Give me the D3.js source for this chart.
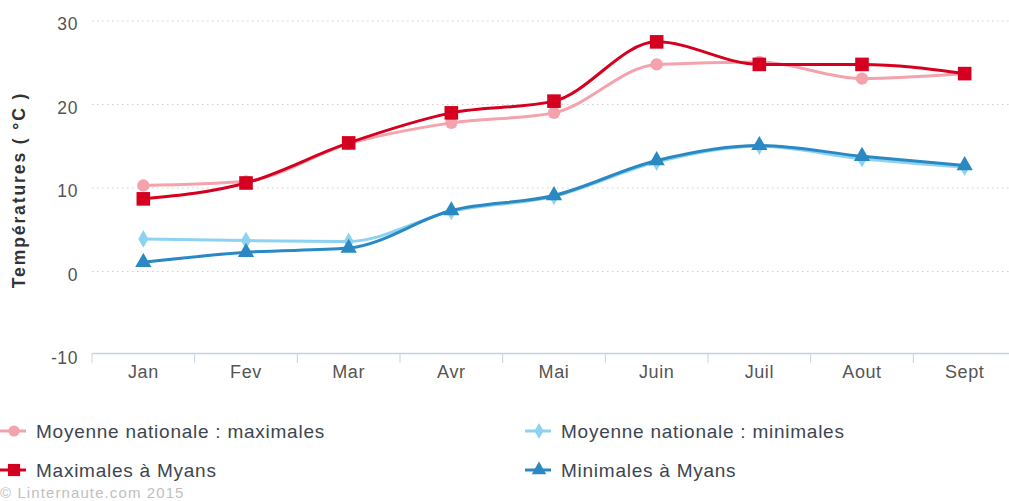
<!DOCTYPE html>
<html>
<head>
<meta charset="utf-8">
<script src="https://cdn.jsdelivr.net/npm/d3@7"></script>
<style>
  html, body { margin: 0; padding: 0; background: #fff; }
  svg { display: block; font-family: "Liberation Sans", Arial, sans-serif; }
</style>
</head>
<body>
<svg id="chart" width="1009" height="501"></svg>
<script>
// températures mensuelles, Myans vs moyenne nationale
const mois = ["Jan", "Fev", "Mar", "Avr", "Mai", "Juin", "Juil", "Aout", "Sept"];
const moyMax = [10.3, 10.8, 15.3, 17.8, 19.0, 24.8, 25.1, 23.1, 23.7];
const moyMin = [3.9, 3.7, 3.6, 7.2, 9.0, 13.1, 15.0, 13.5, 12.5];
const myansMax = [8.7, 10.6, 15.4, 19.0, 20.4, 27.5, 24.8, 24.8, 23.7];
const myansMin = [1.1, 2.3, 2.8, 7.3, 9.1, 13.3, 15.1, 13.8, 12.7];
const yTicks = [-10, 0, 10, 20, 30];

const series = [
    { nom: "Moyenne nationale : maximales", data: moyMax, couleur: "#f4a3ad", symbole: "circle" },
    { nom: "Moyenne nationale : minimales", data: moyMin, couleur: "#8dd3f1", symbole: "diamond" },
    { nom: "Maximales à Myans", data: myansMax, couleur: "#d5001f", symbole: "square" },
    { nom: "Minimales à Myans", data: myansMin, couleur: "#2a88c2", symbole: "triangle" }
];

const svg = d3.select("#chart");
const plot = { left: 92, right: 1016, top: 21, bottom: 355 };

const x = d3.scaleBand().domain(mois).range([plot.left, plot.right]);
const y = d3.scaleLinear().domain([-10, 30]).range([plot.bottom, plot.top]);

// grille pointillée
svg.append("g")
    .selectAll("line")
    .data(yTicks.filter(d => d > -10))
    .enter().append("line")
    .attr("x1", plot.left).attr("x2", 1009)
    .attr("y1", d => y(d)).attr("y2", d => y(d))
    .attr("stroke", "#cfcfcf")
    .attr("stroke-width", 1.2)
    .attr("stroke-dasharray", "1.5,3.5");

// axe Y (labels seulement)
const yAxis = svg.append("g")
    .attr("transform", `translate(${plot.left - 14},3)`)
    .call(d3.axisLeft(y).tickValues(yTicks).tickSize(0).tickPadding(0).tickFormat(d => String(d)));
yAxis.select(".domain").remove();
yAxis.selectAll("text")
    .attr("font-size", 17.5)
    .attr("letter-spacing", 0.6)
    .attr("fill", "#555")
    .attr("font-family", "Liberation Sans, Arial, sans-serif");

// axe X en bas (à -10)
const xAxis = svg.append("g")
    .attr("transform", `translate(0,${plot.bottom - 2})`)
    .call(d3.axisBottom(x).tickSize(0).tickPadding(12));
xAxis.select(".domain").attr("stroke", "#c6d3df").attr("stroke-width", 1.5);
xAxis.selectAll("text")
    .attr("font-size", 18)
    .attr("letter-spacing", 0.6)
    .attr("fill", "#555")
    .attr("font-family", "Liberation Sans, Arial, sans-serif");
// graduations entre les catégories
svg.append("g")
    .selectAll("line")
    .data(mois)
    .enter().append("line")
    .attr("x1", d => x(d)).attr("x2", d => x(d))
    .attr("y1", plot.bottom - 2).attr("y2", plot.bottom + 8)
    .attr("stroke", "#c6d3df")
    .attr("stroke-width", 1);

// titre axe Y
svg.append("text")
    .attr("transform", "translate(25,190) rotate(-90)")
    .attr("text-anchor", "middle")
    .attr("font-size", 17.5)
    .attr("font-weight", "bold")
    .attr("letter-spacing", 1.9)
    .attr("fill", "#333")
    .text("Températures ( °C )");

const line = d3.line()
    .x((d, i) => x(mois[i]) + x.bandwidth() / 2)
    .y(d => y(d))
    .curve(d3.curveMonotoneX);

const symbolType = {
    circle: d3.symbolCircle,
    diamond: d3.symbolDiamond,
    square: d3.symbolSquare,
    triangle: d3.symbolTriangle
};
const symbolSize = { circle: 120, diamond: 90, square: 185, triangle: 115 };

series.forEach(s => {
    const g = svg.append("g");
    g.append("path")
        .datum(s.data)
        .attr("d", line)
        .attr("fill", "none")
        .attr("stroke", s.couleur)
        .attr("stroke-width", 3);
    g.selectAll("path.pt")
        .data(s.data)
        .enter().append("path")
        .attr("class", "pt")
        .attr("transform", (d, i) => `translate(${x(mois[i]) + x.bandwidth() / 2},${y(d)})`)
        .attr("d", d3.symbol().type(symbolType[s.symbole]).size(symbolSize[s.symbole]))
        .attr("fill", s.couleur);
});

// légende
const legendPos = [
    { x: 0, y: 431 },
    { x: 525, y: 431 },
    { x: 0, y: 470 },
    { x: 525, y: 470 }
];
series.forEach((s, j) => {
    const p = legendPos[j];
    const g = svg.append("g").attr("transform", `translate(${p.x},${p.y})`);
    g.append("line")
        .attr("x1", 0).attr("x2", 26)
        .attr("stroke", s.couleur).attr("stroke-width", 3);
    g.append("path")
        .attr("transform", "translate(14,0)")
        .attr("d", d3.symbol().type(symbolType[s.symbole]).size(symbolSize[s.symbole] * 0.8))
        .attr("fill", s.couleur);
    g.append("text")
        .attr("x", 36)
        .attr("dy", "0.35em")
        .attr("font-size", 19)
        .attr("letter-spacing", 0.75)
        .attr("fill", "#3c4650")
        .text(s.nom);
});

svg.append("text")
    .attr("x", 0).attr("y", 498)
    .attr("font-size", 15)
    .attr("letter-spacing", 1.1)
    .attr("fill", "#c0c0c0")
    .text("© Linternaute.com 2015");
</script>
</body>
</html>
